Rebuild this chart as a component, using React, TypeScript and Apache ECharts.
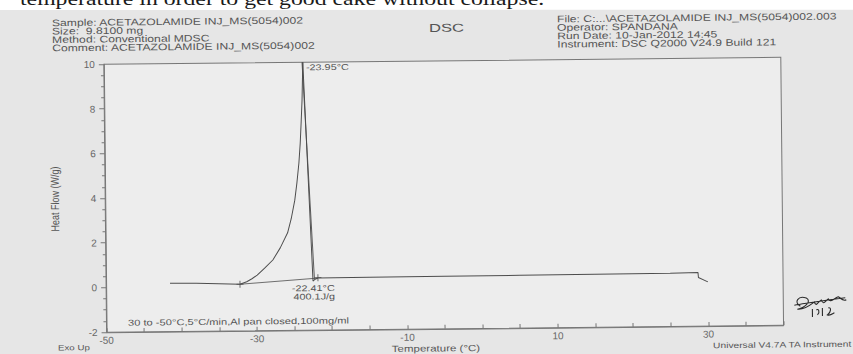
import React, { useEffect, useRef } from "react";
import * as echarts from "echarts";

// ---- data (temperature in °C, heat flow in W/g) ----
const leftBaseTemp = [-41.5, -38.0, -35.0, -32.2];
const leftBaseHeatFlow = [0.17, 0.15, 0.12, 0.09];
const risingTemp = [-32.2, -31.3, -30.6, -29.9, -28.9, -27.8, -26.8, -25.8, -25.3, -24.8, -24.5, -24.2, -24.0, -23.85, -23.7, -23.55];
const risingHeatFlow = [0.09, 0.2, 0.33, 0.49, 0.8, 1.16, 1.7, 2.37, 3.0, 3.83, 4.59, 5.5, 6.38, 7.3, 8.3, 10.0];
const fallingTemp = [-23.55, -22.49, -22.2, -21.83, -15.0, -5.0, 5.0, 15.0, 25.0, 28.7, 28.75, 30.0];
const fallingHeatFlow = [10.0, 0.2, 0.28, 0.33, 0.34, 0.35, 0.36, 0.37, 0.38, 0.4, 0.18, -0.02];
const tangentTemp = [-23.65, -22.3];
const tangentHeatFlow = [10.0, 0.3];
const integralTemp = [-32.2, -21.83];
const integralHeatFlow = [0.09, 0.33];
const markerTemp = [-32.2, -21.83];
const markerHeatFlow = [0.09, 0.35];
const xLabelValues = [-50, -30, -10, 10, 30];

const headerLeft = [
  "Sample: ACETAZOLAMIDE INJ_MS(5054)002",
  "Size:  9.8100 mg",
  "Method: Conventional MDSC",
  "Comment: ACETAZOLAMIDE INJ_MS(5054)002",
];
const headerRight = [
  "File: C:...\\ACETAZOLAMIDE INJ_MS(5054)002.003",
  "Operator: SPANDANA",
  "Run Date: 10-Jan-2012 14:45",
  "Instrument: DSC Q2000 V24.9 Build 121",
];

const SIG =
  "M7,11 C0,7 5,0 13,3 C19,6 11,13 4,14 C11,15 17,10 21,7 C23,13 25,6 28,5 C30,11 32,6 35,4 C37,9 41,3 45,2 C48,4 50,7 53,5 M1,10 C15,8 32,5 52,3 M19,14 L19,22 M23,15 C25,13 27,17 24,20 M29,13 L29,21 M35,13 C38,12 38,17 34,20 C37,21 39,19 41,18";
echarts.graphic.registerShape("signature", echarts.graphic.extendPath(SIG, {}));

const zip = (a: number[], b: number[]) => a.map((v, i) => [v, b[i]]);

const THETA = 0.0103; // page tilt in the photo (radians)
const SX = 1.28; // horizontal stretch of the photo

const TXT = "#555";
const AX = "#777";
const LINE = "#4d4d4d";

function txt(text: string, x: number, y: number, size: number, extra: any = {}) {
  return {
    type: "text",
    x,
    y,
    scaleX: extra.scaleX ?? SX,
    scaleY: extra.scaleY ?? 1,
    rotation: extra.rotation ?? 0,
    z: 50,
    style: {
      text,
      fontSize: size,
      fontFamily: extra.family ?? "Liberation Sans, Arial, sans-serif",
      fill: extra.fill ?? TXT,
      align: extra.align ?? "left",
      textAlign: extra.align ?? "left",
      verticalAlign: "middle",
      textVerticalAlign: "middle",
    },
  };
}

export default function App() {
  const ref = useRef<HTMLDivElement>(null);
  useEffect(() => {
    document.body.style.margin = "0";
    const chart = echarts.init(ref.current!, null, { renderer: "svg" });
    const graphic: any[] = [
      {
        type: "group",
        x: 0,
        y: 0,
        originX: 436.5,
        originY: 187,
        rotation: -THETA,
        z: 40,
        children: [
          { type: "rect", shape: { x: -30, y: -20, width: 940, height: 40 }, style: { fill: "#ffffff" }, z: 40 },
          txt("temperature in order to get good cake without collapse.", 30, 8.5, 19, {
            family: "Liberation Serif, Times New Roman, serif",
            fill: "#1a1a1a",
            scaleX: 1.25,
          }),
        ],
      },
      ...headerLeft.map((t, i) => txt(t, 63.5, 28.8 + i * 8.4, 9.5)),
      ...headerRight.map((t, i) => txt(t, 568.6, 30.2 + i * 8.4, 9.5)),
      txt("DSC", 458, 38, 11.5, { align: "center", scaleX: 1.45 }),
      txt("-23.95°C", 317, 76, 8.5),
      txt("-22.41°C", 300.6, 296.9, 8.5),
      txt("400.1J/g", 302.2, 305.3, 8.5),
      txt("30 to -50°C,5°C/min,Al pan closed,100mg/ml", 136.5, 329.6, 8.7),
      txt("Exo Up", 66.2, 354, 7.6),
      txt("Temperature (°C)", 400, 358.5, 9),
      txt("Universal V4.7A TA Instrument", 721.3, 358.5, 8),
      txt("Heat Flow (W/g)", 64.8, 205.2, 9, { align: "center", rotation: Math.PI / 2, scaleX: 1, scaleY: SX }),
      {
        type: "signature",
        x: 802,
        y: 309,
        z: 50,
        style: { stroke: "#2b2b2b", fill: "none", lineWidth: 1.1 },
      },
    ];

    const lineSeries = (t: number[], h: number[], width: number) => ({
      type: "line",
      data: zip(t, h),
      showSymbol: false,
      silent: true,
      lineStyle: { color: LINE, width },
    });

    const option: any = {
      animation: false,
      backgroundColor: "#e6e6e6",
      grid: {
        left: 115,
        top: 71,
        width: 677,
        height: 268,
        show: true,
        borderColor: AX,
        borderWidth: 1,
        backgroundColor: "#ededed",
      },
      xAxis: {
        type: "value",
        min: -50,
        max: 40,
        interval: 5,
        axisLine: { show: true, onZero: false, lineStyle: { color: AX, width: 1 } },
        axisTick: { show: true, inside: true, length: 4, lineStyle: { color: AX } },
        splitLine: { show: false },
        axisLabel: {
          margin: 3,
          fontSize: 10,
          color: "#666",
          fontFamily: "Liberation Sans, Arial, sans-serif",
          formatter: (v: number) => (xLabelValues.includes(v) ? String(v) : ""),
        },
      },
      yAxis: {
        type: "value",
        min: -2,
        max: 10,
        interval: 2,
        axisLine: { show: true, onZero: false, lineStyle: { color: AX, width: 1 } },
        axisTick: { show: true, inside: false, length: 5, lineStyle: { color: AX } },
        minorTick: { show: true, splitNumber: 4, length: 3, lineStyle: { color: AX } },
        splitLine: { show: false },
        axisLabel: {
          margin: 9,
          fontSize: 10,
          color: "#666",
          fontFamily: "Liberation Sans, Arial, sans-serif",
        },
      },
      series: [
        lineSeries(leftBaseTemp, leftBaseHeatFlow, 1),
        lineSeries(risingTemp, risingHeatFlow, 1),
        lineSeries(fallingTemp, fallingHeatFlow, 1),
        lineSeries(tangentTemp, tangentHeatFlow, 0.9),
        lineSeries(integralTemp, integralHeatFlow, 0.8),
        {
          type: "scatter",
          data: zip(markerTemp, markerHeatFlow),
          symbol: "path://M5,0L5,10M0,5L10,5",
          symbolSize: 7,
          silent: true,
          itemStyle: { color: "rgba(0,0,0,0)", borderColor: LINE, borderWidth: 1 },
        },
      ],
      graphic,
    };
    chart.setOption(option);
    return () => chart.dispose();
  }, []);

  return (
    <div
      style={{
        position: "fixed",
        left: 0,
        top: 0,
        width: 853,
        height: 354,
        overflow: "hidden",
        background: "#e6e6e6",
      }}
    >
      <div
        ref={ref}
        style={{
          position: "absolute",
          left: -10,
          top: -10,
          width: 873,
          height: 374,
          transform: "rotate(-0.59deg)",
        }}
      />
    </div>
  );
}
